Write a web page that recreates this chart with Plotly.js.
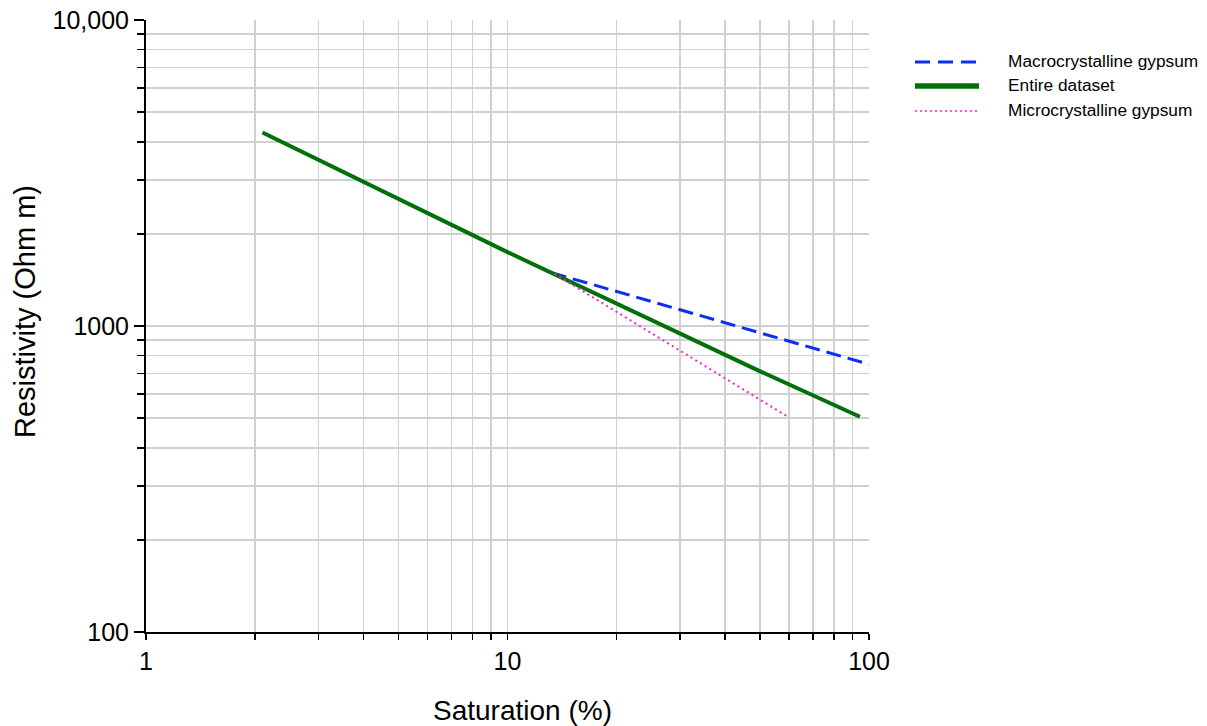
<!DOCTYPE html>
<html>
<head>
<meta charset="utf-8">
<script src="https://cdn.plot.ly/plotly-3.0.1.min.js"></script>
<style>html,body{margin:0;padding:0;background:#fff;}#chart{width:1207px;height:726px;}</style>
</head>
<body>
<div id="chart"></div>
<script>
// ---- data ----
const seriesNames = ["Macrocrystalline gypsum", "Entire dataset", "Microcrystalline gypsum"];
const macroSat = [13.25, 100];
const macroRes = [1493, 750];
const entireSat = [2.1, 10, 50, 94.4];
const entireRes = [4290, 1744, 711, 505];
const microSat = [13.5, 59.5];
const microRes = [1480, 506];

const xMajorTicks = [1, 10, 100];
const xMajorText = ["1", "10", "100"];
const xMinorTicks = [2,3,4,5,6,7,8,9,20,30,40,50,60,70,80,90];
const yMajorTicks = [100, 1000, 10000];
const yMajorText = ["100", "1000", "10,000"];
const yMinorTicks = [200,300,400,500,600,700,800,900,2000,3000,4000,5000,6000,7000,8000,9000];
const xTitle = "Saturation (%)";
const yTitle = "Resistivity (Ohm m)";

// ---- styles ----
const FONT = "Liberation Sans, Arial, sans-serif";
const colors = ["#0a2ff0", "#00700a", "#ff1fcc"];
const dashes = ["15px,7px", "solid", "2px,3.5px"];
const widths = [3, 4, 2];

const traces = [
  {x: macroSat, y: macroRes, name: seriesNames[0], mode: "lines",
   line: {color: colors[0], dash: dashes[0], width: widths[0]}},
  {x: entireSat, y: entireRes, name: seriesNames[1], mode: "lines",
   line: {color: colors[1], dash: dashes[1], width: widths[1]}},
  {x: microSat, y: microRes, name: seriesNames[2], mode: "lines",
   line: {color: colors[2], dash: dashes[2], width: widths[2]}}
].map(t => Object.assign(t, {showlegend: false, hoverinfo: "skip"}));

// custom legend
const L = 146, T = 20, PW = 723, PH = 612;
const px = v => (v - L) / PW;
const py = v => (T + PH - v) / PH;
const legendRows = [62, 86, 111];
const legendWidths = [3, 5.5, 1.6];
const legendDashes = ["15px,8px", "solid", "2px,3px"];
const shapes = [], annotations = [];
seriesNames.forEach((n, i) => {
  shapes.push({type: "line", xref: "paper", yref: "paper",
    x0: px(915), x1: px(979), y0: py(legendRows[i]), y1: py(legendRows[i]),
    line: {color: colors[i], width: legendWidths[i], dash: legendDashes[i]}});
  annotations.push({xref: "paper", yref: "paper", x: px(1006), y: py(legendRows[i] - 1),
    xanchor: "left", yanchor: "middle", showarrow: false, text: n,
    font: {family: FONT, size: 17.3, color: "#000"}});
});
// axis titles
annotations.push({xref: "paper", yref: "paper", x: px(522), y: py(710),
  xanchor: "center", yanchor: "middle", showarrow: false, text: xTitle,
  font: {family: FONT, size: 28, color: "#000"}});
annotations.push({xref: "paper", yref: "paper", x: px(25), y: py(312),
  xanchor: "center", yanchor: "middle", showarrow: false, text: yTitle, textangle: -90,
  font: {family: FONT, size: 29, color: "#000"}});

const gridColor = "#d0d0d0";
const layout = {
  width: 1207, height: 726,
  margin: {l: L, r: 1207 - L - PW, t: T, b: 726 - T - PH},
  paper_bgcolor: "#fff", plot_bgcolor: "#fff",
  font: {family: FONT, color: "#000"},
  showlegend: false,
  xaxis: {
    type: "log", range: [0, 2],
    tickmode: "array", tickvals: xMajorTicks, ticktext: xMajorText,
    ticks: "outside", ticklen: 6, tickwidth: 1.5, tickcolor: "#000",
    tickfont: {family: FONT, size: 25, color: "#000"},
    showgrid: true, gridcolor: gridColor, gridwidth: 1.5,
    showline: true, linecolor: "#000", linewidth: 2,
    zeroline: false,
    minor: {tickmode: "array", tickvals: xMinorTicks, ticks: "outside", ticklen: 6,
            tickwidth: 1.5, tickcolor: "#000", showgrid: true, gridcolor: gridColor, gridwidth: 1.5}
  },
  yaxis: {
    type: "log", range: [2, 4],
    tickmode: "array", tickvals: yMajorTicks, ticktext: yMajorText,
    ticks: "outside", ticklen: 10, tickwidth: 1.5, tickcolor: "#000",
    tickfont: {family: FONT, size: 25, color: "#000"},
    showgrid: true, gridcolor: gridColor, gridwidth: 1.5,
    showline: true, linecolor: "#000", linewidth: 2,
    zeroline: false,
    minor: {tickmode: "array", tickvals: yMinorTicks, ticks: "outside", ticklen: 7,
            tickwidth: 1.5, tickcolor: "#000", showgrid: true, gridcolor: gridColor, gridwidth: 1.5}
  },
  shapes: shapes,
  annotations: annotations
};

Plotly.newPlot("chart", traces, layout, {displayModeBar: false, staticPlot: true});
</script>
</body>
</html>
